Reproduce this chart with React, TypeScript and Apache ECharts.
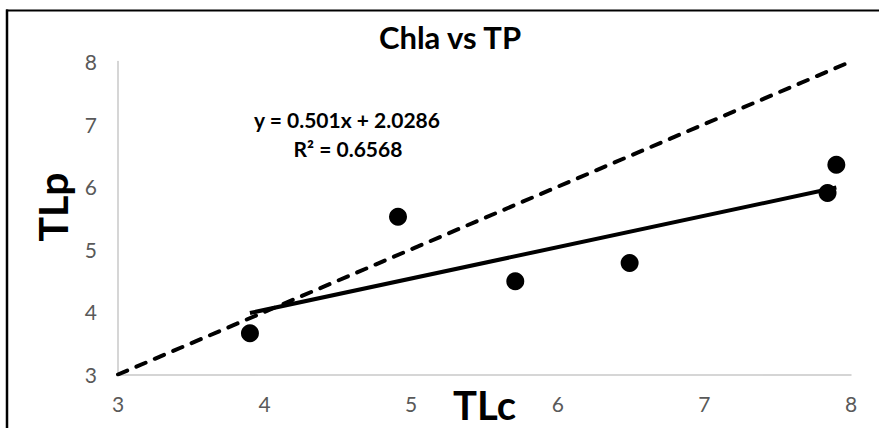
import React, { useEffect, useRef } from "react";
import * as echarts from "echarts";

const tlc = [3.9, 4.91, 5.71, 6.49, 7.84, 7.9];
const tlp = [3.66, 5.52, 4.49, 4.78, 5.9, 6.35];
const slope = 0.501;
const intercept = 2.0286;
const rSquared = 0.6568;
const axisMin = 3;
const axisMax = 8;
const titleText = "Chla vs TP";
const xName = "TLc";
const yName = "TLp";

export default function App() {
  const ref = useRef<HTMLDivElement>(null);
  useEffect(() => {
    if (!ref.current) return;
    const chart = echarts.init(ref.current, undefined, { renderer: "svg" });
    const points = tlc.map((x, i) => [x, tlp[i]]);
    const xMinData = Math.min(...tlc);
    const xMaxData = Math.max(...tlc);
    const trend = [
      [xMinData, slope * xMinData + intercept],
      [xMaxData, slope * xMaxData + intercept],
    ];
    const oneToOne = [
      [axisMin, axisMin],
      [axisMax, axisMax],
    ];
    const labelStyle = { fontFamily: "Lato", fontSize: 21, color: "#595959" };
    chart.setOption({
      animation: false,
      backgroundColor: "#ffffff",
      grid: {
        left: 118,
        right: 28,
        top: 61.5,
        bottom: 53.5,
        containLabel: false,
        outerBoundsMode: "none",
      },
      xAxis: {
        type: "value",
        min: axisMin,
        max: axisMax,
        interval: 1,
        name: xName,
        nameLocation: "middle",
        nameGap: 10,
        nameMoveOverlap: false,
        nameTextStyle: { fontFamily: "Lato", fontWeight: "bold", fontSize: 40, color: "#000" },
        axisLine: { show: true, lineStyle: { color: "#c8c8c8", width: 1.5 } },
        axisTick: { show: false },
        splitLine: { show: false },
        axisLabel: { ...labelStyle, margin: 18 },
      },
      yAxis: {
        type: "value",
        min: axisMin,
        max: axisMax,
        interval: 1,
        axisLine: { show: true, lineStyle: { color: "#c8c8c8", width: 1.5 } },
        axisTick: { show: false },
        splitLine: { show: false },
        axisLabel: { ...labelStyle, margin: 21 },
      },
      series: [
        {
          type: "line",
          data: oneToOne,
          symbol: "none",
          lineStyle: { color: "#000", width: 4, type: [10, 10], cap: "round" },
          z: 2,
        },
        {
          type: "line",
          data: trend,
          symbol: "none",
          lineStyle: { color: "#000", width: 4 },
          z: 3,
        },
        {
          type: "scatter",
          data: points,
          symbol: "circle",
          symbolSize: 18,
          itemStyle: { color: "#000", opacity: 1 },
          z: 4,
        },
      ],
      graphic: [
        {
          type: "line",
          shape: { x1: 7, y1: 9.5, x2: 7, y2: 428 },
          style: { stroke: "#000", lineWidth: 2.5 },
        },
        {
          type: "line",
          shape: { x1: 6, y1: 10.5, x2: 879, y2: 10.5 },
          style: { stroke: "#000", lineWidth: 2 },
        },
        {
          type: "text",
          x: 450,
          y: 37,
          style: {
            text: titleText,
            fontFamily: "Lato",
            fontWeight: "bold",
            fontSize: 31,
            fill: "#000",
            align: "center",
            verticalAlign: "middle",
          },
        },
        {
          type: "text",
          x: 52,
          y: 207,
          rotation: Math.PI / 2,
          style: {
            text: yName,
            fontFamily: "Lato",
            fontWeight: "bold",
            fontSize: 41,
            fill: "#000",
            align: "center",
            verticalAlign: "middle",
          },
        },
        {
          type: "text",
          x: 347,
          y: 119,
          style: {
            text: `y = ${slope}x + ${intercept}`,
            fontFamily: "Lato",
            fontWeight: "bold",
            fontSize: 21,
            fill: "#000",
            align: "center",
            verticalAlign: "middle",
          },
        },
        {
          type: "text",
          x: 348,
          y: 148,
          style: {
            text: `R² = ${rSquared}`,
            fontFamily: "Lato",
            fontWeight: "bold",
            fontSize: 21,
            fill: "#000",
            align: "center",
            verticalAlign: "middle",
          },
        },
      ],
    });
    return () => chart.dispose();
  }, []);
  return (
    <div
      ref={ref}
      style={{ position: "absolute", left: 0, top: 0, width: 879, height: 428 }}
    />
  );
}
